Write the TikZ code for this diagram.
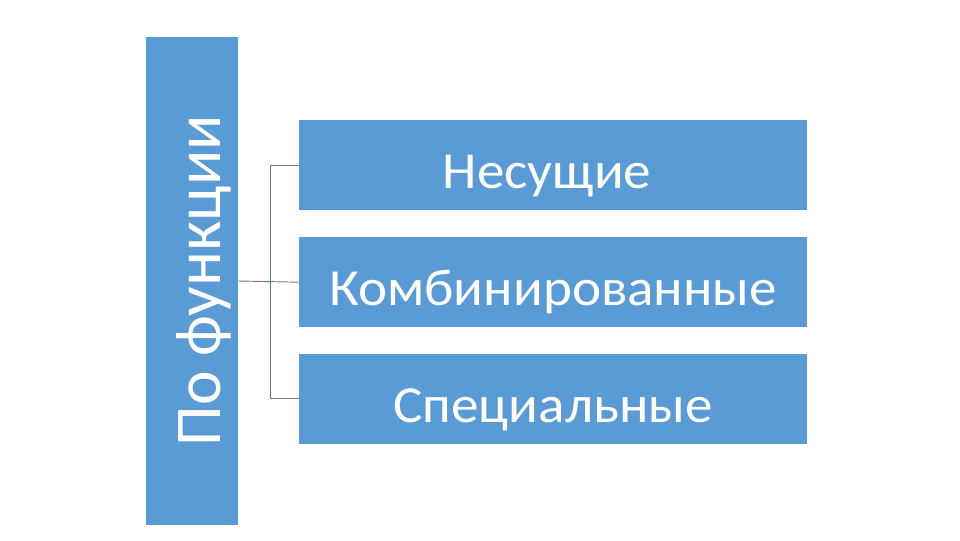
\documentclass[tikz,border=0pt]{standalone}
\usepackage{fontspec}
\setmainfont{Carlito}
\usetikzlibrary{positioning}
\definecolor{boxblue}{HTML}{5B9BD5}
\definecolor{linkgray}{HTML}{687A8C}
\tikzset{
  kind/.style={fill=boxblue,text=white,minimum width=381pt,minimum height=67.5pt,
    inner sep=0pt,text height=35pt,text depth=0pt,
    font=\fontsize{39}{45}\selectfont\addfontfeature{FakeStretch=1.06}},
  link/.style={draw=linkgray,line width=0.7pt}
}
\begin{document}
\begin{tikzpicture}[x=0.75pt,y=0.75pt]
  \useasboundingbox (0,0) rectangle (960,540);
  % column on the left
  \node[fill=boxblue,minimum width=69pt,minimum height=366pt,inner sep=0pt] (cat) at (192,259) {};
  \node[rotate=90,text=white,inner sep=0pt,text height=42pt,text depth=0pt,
    font=\fontsize{49}{56}\selectfont] (catlabel) at (cat.center) {По функции};
  % the three kinds
  \node[kind] (carry) at (553,375) {Несущие\kern9pt};
  \node[kind,below=20pt of carry] (combo) {Комбинированные};
  \node[kind,below=19.5pt of combo] (special) {Специальные};
  % connectors
  \coordinate (trunk) at (270,0);
  \draw[link] (cat.east) -- (combo.west);
  \draw[link] (trunk |- carry.west) -- (trunk |- special.west);
  \draw[link] (trunk |- carry.west) -- (carry.west);
  \draw[link] (trunk |- special.west) -- (special.west);
\end{tikzpicture}
\end{document}
